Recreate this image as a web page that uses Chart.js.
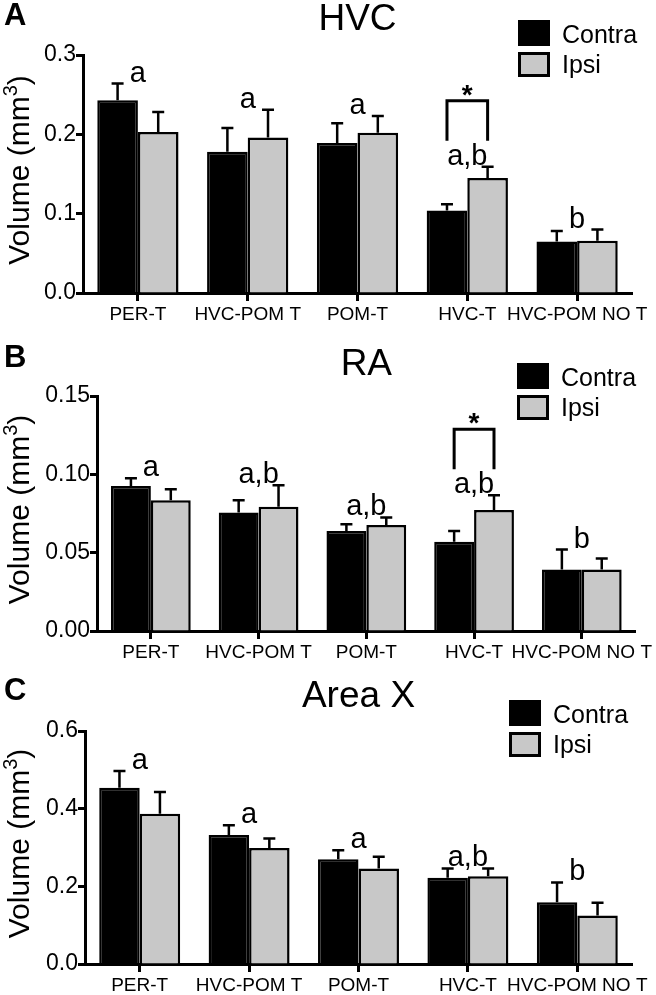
<!DOCTYPE html>
<html>
<head>
<meta charset="utf-8">
<script src="https://cdn.jsdelivr.net/npm/chart.js@4.4.1/dist/chart.umd.min.js"></script>
<style>
  body { margin: 0; background: #fff; width: 656px; height: 995px; overflow: hidden; position: relative; }
  canvas { position: absolute; left: 0; }
</style>
</head>
<body>
<canvas id="chartA" width="656" height="325" style="top:0px"></canvas>
<canvas id="chartB" width="656" height="335" style="top:325px"></canvas>
<canvas id="chartC" width="656" height="335" style="top:660px"></canvas>
<script>
// categories
const categories = ["PER-T", "HVC-POM T", "POM-T", "HVC-T", "HVC-POM NO T"];
const seriesNames = ["Contra", "Ipsi"];

// HVC volumes (mm3) and SEM
const hvcContra = [0.243, 0.178, 0.189, 0.104, 0.065];
const hvcContraErr = [0.021, 0.030, 0.025, 0.008, 0.013];
const hvcIpsi = [0.203, 0.196, 0.202, 0.145, 0.066];
const hvcIpsiErr = [0.025, 0.035, 0.021, 0.014, 0.014];
const hvcLetters = ["a", "a", "a", "a,b", "b"];
const hvcTicks = [0, 0.1, 0.2, 0.3];

// RA
const raContra = [0.0925, 0.0757, 0.0639, 0.0569, 0.0392];
const raContraErr = [0.0050, 0.0078, 0.0043, 0.0070, 0.0128];
const raIpsi = [0.0835, 0.0793, 0.0676, 0.0772, 0.0392];
const raIpsiErr = [0.0069, 0.0138, 0.0049, 0.0095, 0.0071];
const raLetters = ["a", "a,b", "a,b", "a,b", "b"];
const raTicks = [0, 0.05, 0.10, 0.15];

// Area X
const areaXContra = [0.454, 0.332, 0.270, 0.222, 0.159];
const areaXContraErr = [0.043, 0.025, 0.023, 0.024, 0.051];
const areaXIpsi = [0.387, 0.299, 0.246, 0.226, 0.125];
const areaXIpsiErr = [0.056, 0.024, 0.030, 0.020, 0.033];
const areaXLetters = ["a", "a", "a", "a,b", "b"];
const areaXTicks = [0, 0.2, 0.4, 0.6];

const FONT = "'Liberation Sans', Arial, Helvetica, sans-serif";
const GREY = "#c8c8c8";

// panel extras: error bars, letters, bracket, title, legend, axis title
const extrasPlugin = {
  id: "extras",
  afterDatasetsDraw(chart) {
    const p = chart.options.plugins.extras;
    const ctx = chart.ctx;
    const ys = chart.scales.y;
    const xs = chart.scales.x;
    const errs = [p.contraErr, p.ipsiErr];
    const tops = [[], []];

    ctx.save();
    ctx.strokeStyle = "#000";
    ctx.fillStyle = "#000";
    ctx.lineWidth = 2.5;
    errs.forEach((err, d) => {
      const meta = chart.getDatasetMeta(d);
      meta.data.forEach((bar, i) => {
        const v = chart.data.datasets[d].data[i];
        const top = ys.getPixelForValue(v + err[i]);
        tops[d][i] = top;
        ctx.beginPath();
        ctx.moveTo(bar.x, bar.y);
        ctx.lineTo(bar.x, top);
        ctx.moveTo(bar.x - 6, top);
        ctx.lineTo(bar.x + 6, top);
        ctx.stroke();
      });
    });

    // group letters
    ctx.font = "29px " + FONT;
    ctx.textAlign = "center";
    ctx.textBaseline = "alphabetic";
    p.letters.forEach((txt, i) => {
      const top = Math.min(tops[0][i], tops[1][i]);
      ctx.fillText(txt, xs.getPixelForValue(i), top - 2);
    });

    // significance bracket
    if (p.star !== null) {
      const i = p.star;
      const x0 = chart.getDatasetMeta(0).data[i].x;
      const x1 = chart.getDatasetMeta(1).data[i].x;
      const top = Math.min(tops[0][i], tops[1][i]);
      const b = top - 26;
      const t = b - 40;
      ctx.lineWidth = 3;
      ctx.beginPath();
      ctx.moveTo(x0, b);
      ctx.lineTo(x0, t);
      ctx.lineTo(x1, t);
      ctx.lineTo(x1, b);
      ctx.stroke();
      ctx.font = "bold 28px " + FONT;
      ctx.fillText("*", (x0 + x1) / 2, t + 3);
    }
    ctx.restore();
  },
  afterDraw(chart) {
    const p = chart.options.plugins.extras;
    const ctx = chart.ctx;
    const area = chart.chartArea;
    ctx.save();
    ctx.fillStyle = "#000";
    // panel letter
    ctx.font = "bold 31px " + FONT;
    ctx.textAlign = "left";
    ctx.textBaseline = "alphabetic";
    ctx.fillText(p.panel, 4, p.panelY);
    // title
    ctx.font = "37px " + FONT;
    ctx.textAlign = "center";
    ctx.fillText(p.title, (area.left + area.right) / 2, p.titleY);
    // legend
    const lx = p.legendX, ly = p.legendY;
    ctx.fillRect(lx, ly, 32, 26);
    ctx.fillStyle = GREY;
    ctx.fillRect(lx, ly + 32, 32, 25);
    ctx.strokeStyle = "#000";
    ctx.lineWidth = 3;
    ctx.strokeRect(lx + 1.5, ly + 33.5, 29, 22);
    ctx.fillStyle = "#000";
    ctx.font = "25px " + FONT;
    ctx.textAlign = "left";
    ctx.fillText(seriesNames[0], lx + 44, ly + 23);
    ctx.fillText(seriesNames[1], lx + 44, ly + 53);
    // y axis title with superscript
    const main = "Volume (mm", sup = "3", close = ")";
    ctx.font = "30px " + FONT;
    const w1 = ctx.measureText(main).width;
    const w3 = ctx.measureText(close).width;
    ctx.font = "20px " + FONT;
    const w2 = ctx.measureText(sup).width;
    const total = w1 + w2 + w3;
    ctx.translate(29, (area.top + area.bottom) / 2 - 4);
    ctx.rotate(-Math.PI / 2);
    let x = -total / 2;
    ctx.font = "30px " + FONT;
    ctx.fillText(main, x, 0);
    x += w1;
    ctx.font = "20px " + FONT;
    ctx.fillText(sup, x, -12);
    x += w2;
    ctx.font = "30px " + FONT;
    ctx.fillText(close, x, 0);
    ctx.restore();
  }
};

function makePanel(id, cfg) {
  const canvas = document.getElementById(id);
  const H = canvas.height;
  const ticks = cfg.ticks;
  return new Chart(canvas.getContext("2d"), {
    type: "bar",
    data: {
      labels: categories,
      datasets: [
        { label: seriesNames[0], data: cfg.contra, backgroundColor: "#000", borderColor: "#000", borderWidth: 2.5 },
        { label: seriesNames[1], data: cfg.ipsi, backgroundColor: GREY, borderColor: "#000", borderWidth: 2.5 }
      ]
    },
    options: {
      responsive: false,
      animation: false,
      devicePixelRatio: 1,
      categoryPercentage: 0.74,
      barPercentage: 1.0,
      layout: { padding: { top: cfg.area.top, right: 656 - cfg.area.right, left: 0, bottom: 0 } },
      plugins: {
        legend: { display: false },
        title: { display: false },
        tooltip: { enabled: false },
        extras: {
          panel: cfg.panel, panelY: cfg.panelY,
          title: cfg.title, titleY: cfg.titleY,
          legendX: cfg.legendX, legendY: cfg.legendY,
          contraErr: cfg.contraErr, ipsiErr: cfg.ipsiErr,
          letters: cfg.letters, star: cfg.star
        }
      },
      scales: {
        x: {
          offset: true,
          grid: { display: true, offset: false, drawOnChartArea: false, drawTicks: true, tickLength: 8, tickWidth: 3, tickColor: "#000" },
          border: { display: true, width: 3, color: "#000" },
          ticks: { color: "#000", font: { family: FONT, size: 19 }, padding: 2, maxRotation: 0, autoSkip: false },
          afterFit(scale) { scale.height = H - cfg.area.bottom; }
        },
        y: {
          min: ticks[0],
          max: ticks[ticks.length - 1],
          afterBuildTicks(scale) { scale.ticks = ticks.map(v => ({ value: v })); },
          grid: { display: true, drawOnChartArea: false, drawTicks: true, tickLength: 7, tickWidth: 3, tickColor: "#000" },
          border: { display: true, width: 3, color: "#000" },
          ticks: {
            color: "#000", padding: 0,
            font: { family: FONT, size: 23 },
            callback: v => Number(v).toFixed(cfg.decimals)
          },
          title: { display: false },
          afterFit(scale) { scale.width = cfg.area.left; }
        }
      }
    },
    plugins: [extrasPlugin]
  });
}

makePanel("chartA", {
  panel: "A", panelY: 25, title: "HVC", titleY: 30,
  legendX: 518, legendY: 20,
  contra: hvcContra, contraErr: hvcContraErr, ipsi: hvcIpsi, ipsiErr: hvcIpsiErr,
  letters: hvcLetters, star: 3, ticks: hvcTicks, decimals: 1,
  area: { left: 83, top: 55, right: 632, bottom: 293 }
});

makePanel("chartB", {
  panel: "B", panelY: 42, title: "RA", titleY: 50,
  legendX: 517, legendY: 38,
  contra: raContra, contraErr: raContraErr, ipsi: raIpsi, ipsiErr: raIpsiErr,
  letters: raLetters, star: 3, ticks: raTicks, decimals: 2,
  area: { left: 97, top: 71, right: 636, bottom: 306 }
});

makePanel("chartC", {
  panel: "C", panelY: 40, title: "Area X", titleY: 47,
  legendX: 509, legendY: 40,
  contra: areaXContra, contraErr: areaXContraErr, ipsi: areaXIpsi, ipsiErr: areaXIpsiErr,
  letters: areaXLetters, star: null, ticks: areaXTicks, decimals: 1,
  area: { left: 85, top: 71, right: 632, bottom: 304 }
});
</script>
</body>
</html>
